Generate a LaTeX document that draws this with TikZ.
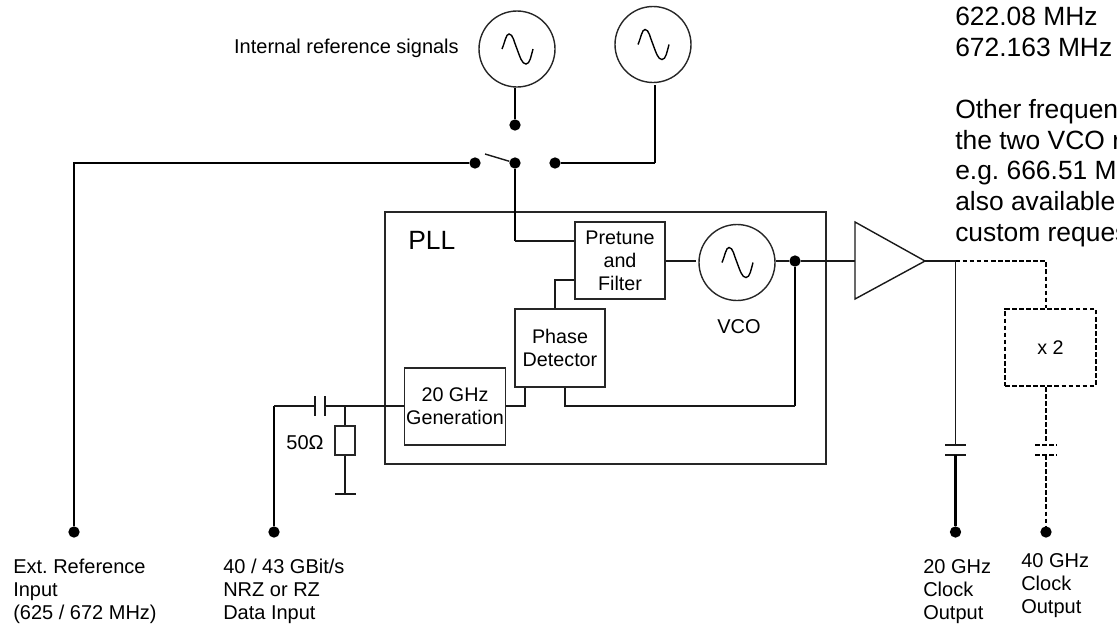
\documentclass[tikz,border=0pt]{standalone}
\usepackage{fontspec}
\setmainfont{Liberation Sans}
\usetikzlibrary{calc}
\frenchspacing
\tikzset{
  x=0.75pt,y=-0.75pt,
  thinw/.style={line width=1.05pt,black!90},
  thick1/.style={line width=2pt,black},
  dashw/.style={line width=1.5pt,draw=black,dash pattern=on 3.5pt off 1.8pt},
  blockb/.style={draw=black!85,line width=1.05pt,fill=white,align=center,inner sep=0pt,font=\fontsize{14.8pt}{17.25pt}\selectfont},
  osc/.style={circle,draw=black!85,line width=1.05pt,fill=white,inner sep=0pt,minimum size=57pt},
  dotn/.style={circle,fill=black,inner sep=0pt,minimum size=8.5pt},
  lab/.style={anchor=north west,align=left,inner sep=0pt,font=\fontsize{15pt}{17.25pt}\selectfont},
  bigl/.style={anchor=north west,align=left,inner sep=0pt,font=\fontsize{19.8pt}{23pt}\selectfont}
}
\newcommand{\sinewave}[1]{\draw[line width=1.05pt,black] ($(#1)+(-15,0)$) .. controls ($(#1)+(-12,-7)$) and ($(#1)+(-11,-15)$) .. ($(#1)+(-8,-15)$) .. controls ($(#1)+(-4,-15)$) and ($(#1)+(-3,-7)$) .. ($(#1)+(0,0)$) .. controls ($(#1)+(3,8)$) and ($(#1)+(5,15)$) .. ($(#1)+(9,15)$) .. controls ($(#1)+(13,15)$) and ($(#1)+(14,7)$) .. ($(#1)+(16,0)$);}
\begin{document}
\begin{tikzpicture}
\useasboundingbox (0,0) rectangle (1117,625);
% PLL
\node[draw=black!85,line width=1.05pt,minimum width=441*0.75pt,minimum height=252*0.75pt,inner sep=0pt] (pll) at (605.5,338) {};
\node[bigl] (plltext) at (408,231) {PLL};
% blocks
\node[blockb,minimum width=90*0.75pt,minimum height=77*0.75pt] (pre) at (620,260.5) {Pretune\\and\\Filter};
\node[blockb,minimum width=90*0.75pt,minimum height=78*0.75pt] (pd) at (560,348) {Phase\\Detector};
\node[blockb,minimum width=101*0.75pt,minimum height=77*0.75pt] (gen) at (455,406.5) {20 GHz\\Generation};
\node[osc] (vco) at (737,262.5) {};
\sinewave{vco}
\node[lab,anchor=center] (vcot) at (739,327) {VCO};
\node[osc] (o1) at (517,49) {};
\sinewave{o1}
\node[osc] (o2) at (653,44.5) {};
\sinewave{o2}
\node[lab,anchor=east] (irs) at (459,48) {Internal reference signals};
% amp
\coordinate (ampa) at (855,222);
\coordinate (ampb) at (855,299);
\coordinate (ampc) at (925,261);
\draw[thinw] (ampa) -- (ampc) -- (ampb) -- cycle;
% switch dots
\node[dotn] (sw1) at (515,125) {};
\node[dotn] (sw2) at (475,163) {};
\node[dotn] (sw3) at (515,163) {};
\node[dotn] (sw4) at (555,163) {};
\coordinate (sw5) at (485,154);
\draw[thinw] (sw5) -- (sw3);
\coordinate (o2c) at (655,163);
\coordinate (o2t) at (655,85);
\draw[thick1] (sw1 |- o1.south) -- (sw1);
\draw[line width=1.3pt] (o2t) -- (o2c);
\draw[thick1] (o2c) -- (sw4);
% ext ref
\node[dotn] (d1) at (74,532) {};
\coordinate (ec) at (74,163);
\draw[thick1] (d1) -- (ec) -- (sw2);
% switch to pretune
\coordinate (sp) at (515,241);
\draw[thick1] (sw3) -- (sp);
\draw[thinw] (sp) -- (sp -| pre.west);
% pd to pre
\coordinate (pp) at (555,280);
\draw[thinw] (pp -| pre.west) -- (pp) -- (pp |- pd.north);
% pre vco amp
\coordinate (prev) at (696,261);
\draw[thinw] (pre.east |- prev) -- (prev);
\node[dotn] (dj) at (795,261) {};
\draw[thinw] (vco.east |- dj) -- (dj) -- (ampc -| ampa);
% feedback
\coordinate (fb) at (795,406);
\coordinate (pdo) at (565,406);
\draw[thick1] (dj) -- (fb);
\draw[thinw] (fb) -- (pdo) -- (pdo |- pd.south);
% gen to pd
\coordinate (gp) at (525,406);
\draw[thinw] (gen.east |- gp) -- (gp) -- (gp |- pd.south);
% input
\node[dotn] (d2) at (274,532) {};
\coordinate (ic) at (274,406);
\coordinate (cap1) at (315,406);
\coordinate (cap2) at (325,406);
\coordinate (rj) at (345,406);
\draw[thick1] (d2) -- (ic);
\draw[thinw] (ic) -- (cap1);
\draw[thinw] (cap2) -- (gen.west |- cap2);
\draw[thinw] ($(cap1)+(0,-10)$) -- ($(cap1)+(0,10)$);
\draw[thinw] ($(cap2)+(0,-10)$) -- ($(cap2)+(0,10)$);
\node[draw=black!85,line width=1.05pt,fill=white,minimum width=20*0.75pt,minimum height=29*0.75pt,inner sep=0pt] (res) at (345,440.5) {};
\coordinate (gnd) at (345,494);
\draw[thinw] (rj) -- (res.north);
\draw[thinw] (res.south) -- (gnd);
\draw[thinw] ($(gnd)+(-10.5,0)$) -- ($(gnd)+(10.5,0)$);
\node[lab,anchor=center] (ohm) at (305,443) {50Ω};
% output
\coordinate (oj) at (955.5,261);
\coordinate (c1a) at (955.5,445);
\coordinate (c1b) at (955.5,455);
\node[dotn] (d3) at (955.5,532) {};
\draw[thinw] (ampc) -- (oj) -- (c1a);
\draw[thinw] ($(c1a)+(-10.5,0)$) -- ($(c1a)+(10.5,0)$);
\draw[thinw] ($(c1b)+(-10.5,0)$) -- ($(c1b)+(10.5,0)$);
\draw[thick1] (c1b) -- (d3);
% dashed
\node[blockb,dashw,minimum width=91*0.75pt,minimum height=77*0.75pt] (x2) at (1050.5,347.5) {x 2};
\coordinate (dc) at (1046,261);
\coordinate (c2a) at (1046,445);
\coordinate (c2b) at (1046,455);
\node[dotn] (d4) at (1046,532) {};
\draw[dashw] (oj) -- (dc) -- (dc |- x2.north);
\draw[dashw] (dc |- x2.south) -- (c2a);
\draw[dashw] ($(c2a)+(-11,0)$) -- ($(c2a)+(11,0)$);
\draw[dashw] ($(c2b)+(-11,0)$) -- ($(c2b)+(11,0)$);
\draw[dashw] (c2b) -- (d4);
% labels
\node[lab] (l1) at (13,559) {Ext. Reference\\Input\\(625 / 672 MHz)};
\node[lab] (l2) at (223,559) {40 / 43 GBit/s\\NRZ or RZ\\Data Input};
\node[lab] (l3) at (923,559) {20 GHz\\Clock\\Output};
\node[lab] (l4) at (1021,553) {40 GHz\\Clock\\Output};
\node[bigl] (tr1) at (955,7) {622.08 MHz\\672.163 MHz};
\node[bigl] (tr2) at (955,99) {Other frequen\\the two VCO r\\e.g. 666.51 MH\\also available\\custom reques};
\end{tikzpicture}
\end{document}
